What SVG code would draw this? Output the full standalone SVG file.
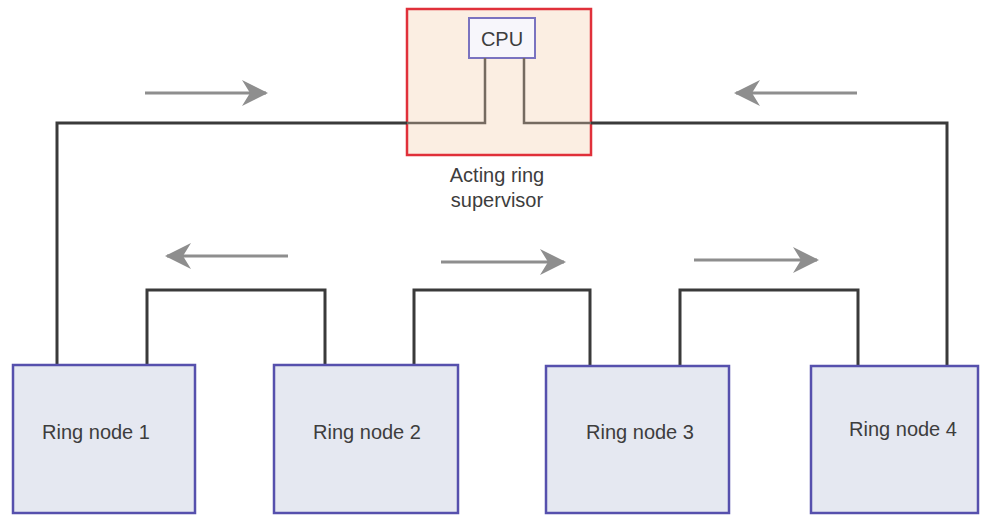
<svg xmlns="http://www.w3.org/2000/svg" width="984" height="515" viewBox="0 0 984 515">
<style>
.node{fill:#e5e8f1;stroke:#5650ad;stroke-width:2.5}
.lbl{font-family:"Liberation Sans",Arial,sans-serif;font-size:20px;fill:#3d3d3d;text-anchor:middle}
.wire{fill:none;stroke:#3a3a3a;stroke-width:3}
.inner{fill:none;stroke:#756a60;stroke-width:2.5}
.flow{fill:none;stroke:#8e8e8e;stroke-width:3;marker-end:url(#ah)}
</style>
<defs>
<marker id="ah" viewBox="0 0 26 26" refX="24" refY="13" markerWidth="26" markerHeight="26" markerUnits="userSpaceOnUse" orient="auto">
<path d="M0,0 L26,13 L0,26 L8,13 Z" fill="#8e8e8e"/>
</marker>
</defs>
<rect width="984" height="515" fill="#ffffff"/>
<g id="supervisor">
<rect x="407" y="9" width="184" height="146" fill="#fbeee2" stroke="#e0303a" stroke-width="2.5"/>
<text class="lbl" x="497" y="182">Acting ring</text>
<text class="lbl" x="497" y="207">supervisor</text>
</g>
<g id="cpu">
<rect x="469" y="18" width="66" height="40" fill="#f7f6fb" stroke="#7a73c0" stroke-width="2"/>
<text class="lbl" x="502" y="46" font-size="19">CPU</text>
</g>
<g id="connectors">
<path class="wire" d="M57,365 V123 H407"/>
<path class="inner" d="M407,123 H485 V58"/>
<path class="inner" d="M524,58 V123 H591"/>
<path class="wire" d="M591,123 H947 V365"/>
<path class="wire" d="M147,365 V290 H325 V365"/>
<path class="wire" d="M414,365 V290 H590 V365"/>
<path class="wire" d="M680,365 V290 H858 V365"/>
<path class="flow" d="M145,93 H266"/>
<path class="flow" d="M857,93 H736"/>
<path class="flow" d="M288,256 H167"/>
<path class="flow" d="M441,262 H564"/>
<path class="flow" d="M694,260 H817"/>
</g>
<g id="node1">
<rect class="node" x="13" y="365" width="182" height="148"/>
<text class="lbl" x="96" y="439">Ring node 1</text>
</g>
<g id="node2">
<rect class="node" x="274" y="365" width="184" height="148"/>
<text class="lbl" x="367" y="439">Ring node 2</text>
</g>
<g id="node3">
<rect class="node" x="546" y="366" width="183" height="147"/>
<text class="lbl" x="640" y="439">Ring node 3</text>
</g>
<g id="node4">
<rect class="node" x="811" y="366" width="167" height="147"/>
<text class="lbl" x="903" y="436">Ring node 4</text>
</g>
</svg>
